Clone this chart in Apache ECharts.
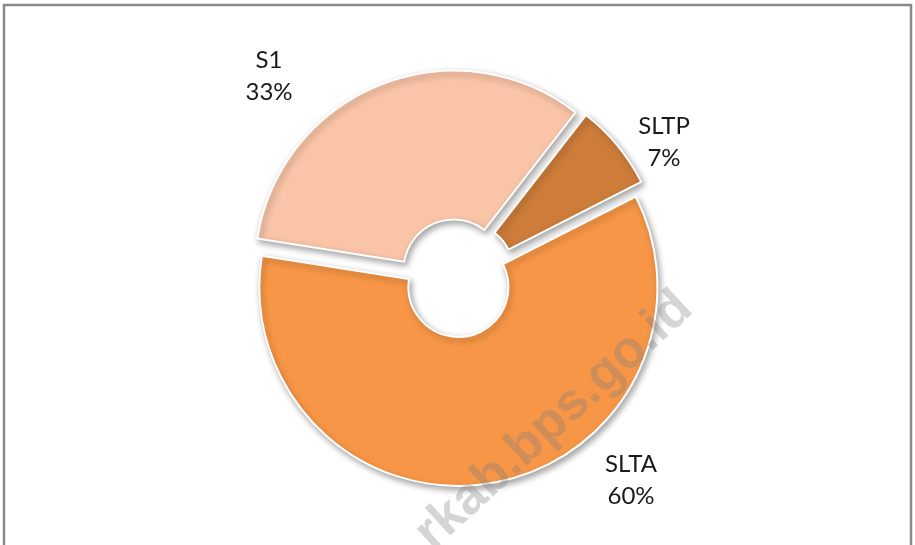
<!DOCTYPE html>
<html>
<head>
<meta charset="utf-8">
<script src="https://cdn.jsdelivr.net/npm/echarts@6/dist/echarts.min.js"></script>
<style>
    html, body { margin: 0; padding: 0; background: #fff; }
    #main { width: 915px; height: 545px; }
</style>
</head>
<body>
<div id="main"></div>
<script>
// data, clockwise from the S1 slice
var categories = ["S1", "SLTP", "SLTA"];
var values = [33, 7, 60];
var colors = ["#F9C4A7", "#CD7C39", "#F79646"];
// label centres (px)
var labelPos = [[269, 76], [664, 142], [631, 480]];

var myChart = echarts.init(document.getElementById("main"), null, { renderer: "canvas" });

var total = 0;
for (var i = 0; i < values.length; i++) total += values[i];

var seriesData = [];
var labels = [];
for (var i = 0; i < categories.length; i++) {
    seriesData.push({
        name: categories[i],
        value: values[i],
        selected: true,
        itemStyle: { color: colors[i] }
    });
    labels.push({
        type: "text",
        x: labelPos[i][0],
        y: labelPos[i][1],
        z: 50,
        silent: true,
        style: {
            text: categories[i] + "\n" + Math.round(values[i] / total * 100) + "%",
            font: "24px Lato, 'Open Sans', sans-serif",
            lineHeight: 32,
            fill: "#1a1a1a",
            align: "center",
            verticalAlign: "middle"
        }
    });
}

var option = {
    animation: false,
    backgroundColor: "#fff",
    graphic: [{
        type: "rect",
        shape: { x: 4, y: 5, width: 907, height: 600 },
        style: { fill: "none", stroke: "#8a8a8a", lineWidth: 2.5 },
        silent: true
    }, {
        type: "text",
        x: 554,
        y: 421,
        rotation: 42.5 * Math.PI / 180,
        z: 100,
        silent: true,
        style: {
            text: "rkab.bps.go.id",
            font: "bold 52px 'Liberation Sans', Arial, sans-serif",
            fill: "rgba(128,128,128,0.33)",
            align: "center",
            verticalAlign: "middle"
        }
    }].concat(labels),
    series: [{
        type: "pie",
        center: [457, 278],
        radius: [50, 199],
        startAngle: 171,
        clockwise: true,
        selectedMode: "multiple",
        selectedOffset: 9,
        itemStyle: {
            borderColor: "#fff",
            borderWidth: 2,
            shadowBlur: 6,
            shadowOffsetX: 2,
            shadowOffsetY: 3,
            shadowColor: "rgba(0,0,0,0.35)"
        },
        label: { show: false },
        labelLine: { show: false },
        emphasis: { disabled: true },
        data: seriesData
    }]
};
myChart.setOption(option);
</script>
</body>
</html>
